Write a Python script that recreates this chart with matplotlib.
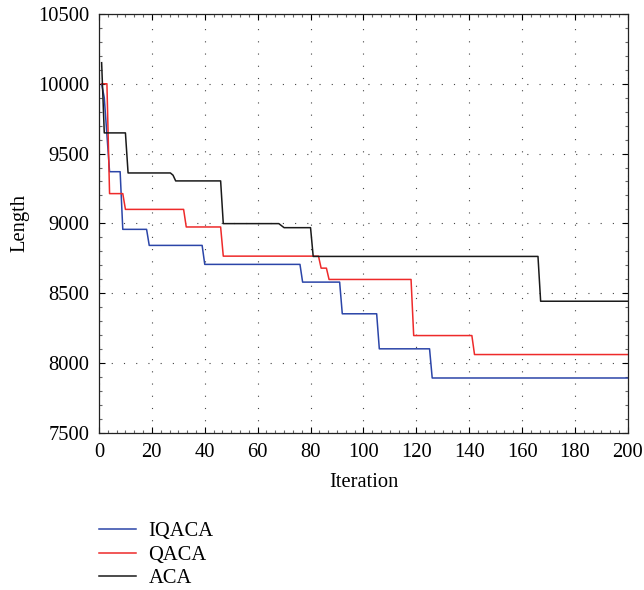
import matplotlib
matplotlib.use("Agg")
import matplotlib.pyplot as plt
from matplotlib.ticker import AutoMinorLocator

# step curves (iteration, best length)
iqaca_it = [1, 2, 4, 8, 9, 18, 19, 39, 40, 76, 77, 91, 92, 105, 106, 125, 126, 200]
iqaca_len = [10000, 9900, 9370, 9370, 8957, 8957, 8842, 8842, 8706, 8706,
             8579, 8579, 8352, 8352, 8101, 8101, 7892, 7892]

qaca_it = [1, 3, 4, 9, 10, 32, 33, 46, 47, 83, 84, 86, 87, 118, 119, 141, 142, 200]
qaca_len = [10000, 10000, 9213, 9213, 9100, 9100, 8974, 8974, 8765, 8765,
            8679, 8679, 8598, 8598, 8196, 8196, 8060, 8060]

aca_it = [1, 2, 10, 11, 27, 28, 29, 46, 47, 68, 70, 80, 81, 166, 167, 200]
aca_len = [10151, 9648, 9648, 9361, 9361, 9345, 9304, 9304, 8998, 8998,
           8969, 8969, 8763, 8763, 8442, 8442]

labels = ["IQACA", "QACA", "ACA"]
colors = ["#2b45a8", "#ee2a2a", "#1a1a1a"]

plt.rcParams["font.family"] = ["Liberation Serif", "DejaVu Serif"]
plt.rcParams["font.size"] = 14.8

fig = plt.figure(figsize=(6.44, 5.9), dpi=100)
ax = fig.add_axes([0.1537, 0.2666, 0.8213, 0.7097])

ax.plot(iqaca_it, iqaca_len, color=colors[0], lw=1.1, label=labels[0])
ax.plot(qaca_it, qaca_len, color=colors[1], lw=1.1, label=labels[1])
ax.plot(aca_it, aca_len, color=colors[2], lw=1.1, label=labels[2])

ax.set_xlim(0, 200)
ax.set_ylim(7500, 10500)
ax.set_xticks(range(0, 201, 20))
ax.set_yticks(range(7500, 10501, 500))
ax.xaxis.set_minor_locator(AutoMinorLocator(6))
ax.yaxis.set_minor_locator(AutoMinorLocator(5))
ax.tick_params(which="both", direction="in", top=True, right=True, width=0.8)
ax.tick_params(which="major", length=4)
ax.tick_params(which="minor", length=2, color="#666666")
ax.tick_params(axis="x", which="major", pad=7.5)
ax.tick_params(axis="y", which="major", pad=7)
ax.grid(True, which="major", color="#444444", lw=0.8, linestyle=(0, (1, 10)))
for s in ax.spines.values():
    s.set_linewidth(0.9)
    s.set_color("#222222")

ax.set_xlabel("Iteration", labelpad=8)
ax.set_ylabel("Length", labelpad=6)

fig.legend(loc="upper left", bbox_to_anchor=(99 / 644, 1 - 522 / 590), frameon=False,
           borderpad=0, borderaxespad=0, handlelength=1.8, handletextpad=0.6,
           labelspacing=0.2, fontsize=14.8)

fig.savefig("out.png", dpi=100)
